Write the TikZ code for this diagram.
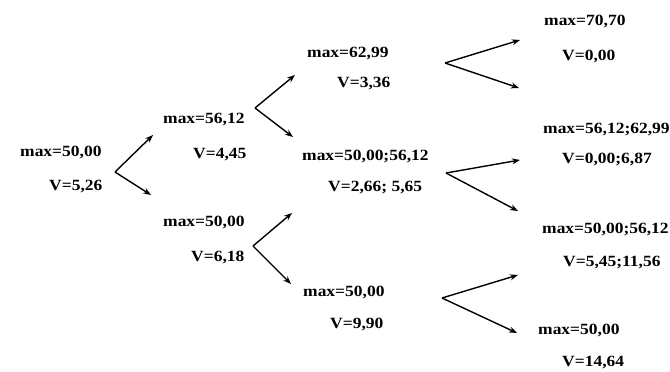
\documentclass[tikz,border=0pt]{standalone}
\usepackage{fontspec}
\setmainfont{Liberation Serif}[FakeStretch=1.12,BoldFont={Liberation Serif Bold}]
\usetikzlibrary{arrows.meta}
\tikzset{
  lbl/.style={inner sep=0pt, anchor=base west, font=\fontsize{15.6}{18}\selectfont\bfseries},
  arr/.style={line width=1.4pt, -{Stealth[length=8pt,width=6pt]}}
}
\begin{document}
\begin{tikzpicture}[x=1pt,y=-1pt]
\useasboundingbox (0,0) rectangle (670,372);
% column 1
\node[lbl] (m0) at (20,156) {max=50,00};
\node[lbl] (v0) at (49,190) {V=5,26};
% column 2
\node[lbl] (m1) at (163,123) {max=56,12};
\node[lbl] (v1) at (193,158) {V=4,45};
\node[lbl] (m2) at (163,226) {max=50,00};
\node[lbl] (v2) at (191,261) {V=6,18};
% column 3
\node[lbl] (m3) at (307,57) {max=62,99};
\node[lbl] (v3) at (337,87) {V=3,36};
\node[lbl] (m4) at (302,160) {max=50,00;56,12};
\node[lbl] (v4) at (328,191) {V=2,66; 5,65};
\node[lbl] (m5) at (303,296) {max=50,00};
\node[lbl] (v5) at (330,328) {V=9,90};
% column 4
\node[lbl] (m6) at (544,25) {max=70,70};
\node[lbl] (v6) at (562,60) {V=0,00};
\node[lbl] (m7) at (543,133) {max=56,12;62,99};
\node[lbl] (v7) at (562,163) {V=0,00;6,87};
\node[lbl] (m8) at (542,233) {max=50,00;56,12};
\node[lbl] (v8) at (563,266) {V=5,45;11,56};
\node[lbl] (m9) at (538,334) {max=50,00};
\node[lbl] (v9) at (562,366) {V=14,64};
% forks
\coordinate (f1) at (115,172); \coordinate (f1a) at (153,135); \coordinate (f1b) at (151,195);
\coordinate (f2) at (255,108); \coordinate (f2a) at (295,75);  \coordinate (f2b) at (293,137);
\coordinate (f3) at (253,246); \coordinate (f3a) at (292,213); \coordinate (f3b) at (291,284);
\coordinate (f4) at (445,63);  \coordinate (f4a) at (520,40);  \coordinate (f4b) at (519,88);
\coordinate (f5) at (446,173); \coordinate (f5a) at (520,160); \coordinate (f5b) at (518,211);
\coordinate (f6) at (442,298); \coordinate (f6a) at (518,275); \coordinate (f6b) at (517,333);
\foreach \f in {f1,f2,f3,f4,f5,f6}{
  \draw[arr] (\f) -- (\f a);
  \draw[arr] (\f) -- (\f b);
}
\end{tikzpicture}
\end{document}
